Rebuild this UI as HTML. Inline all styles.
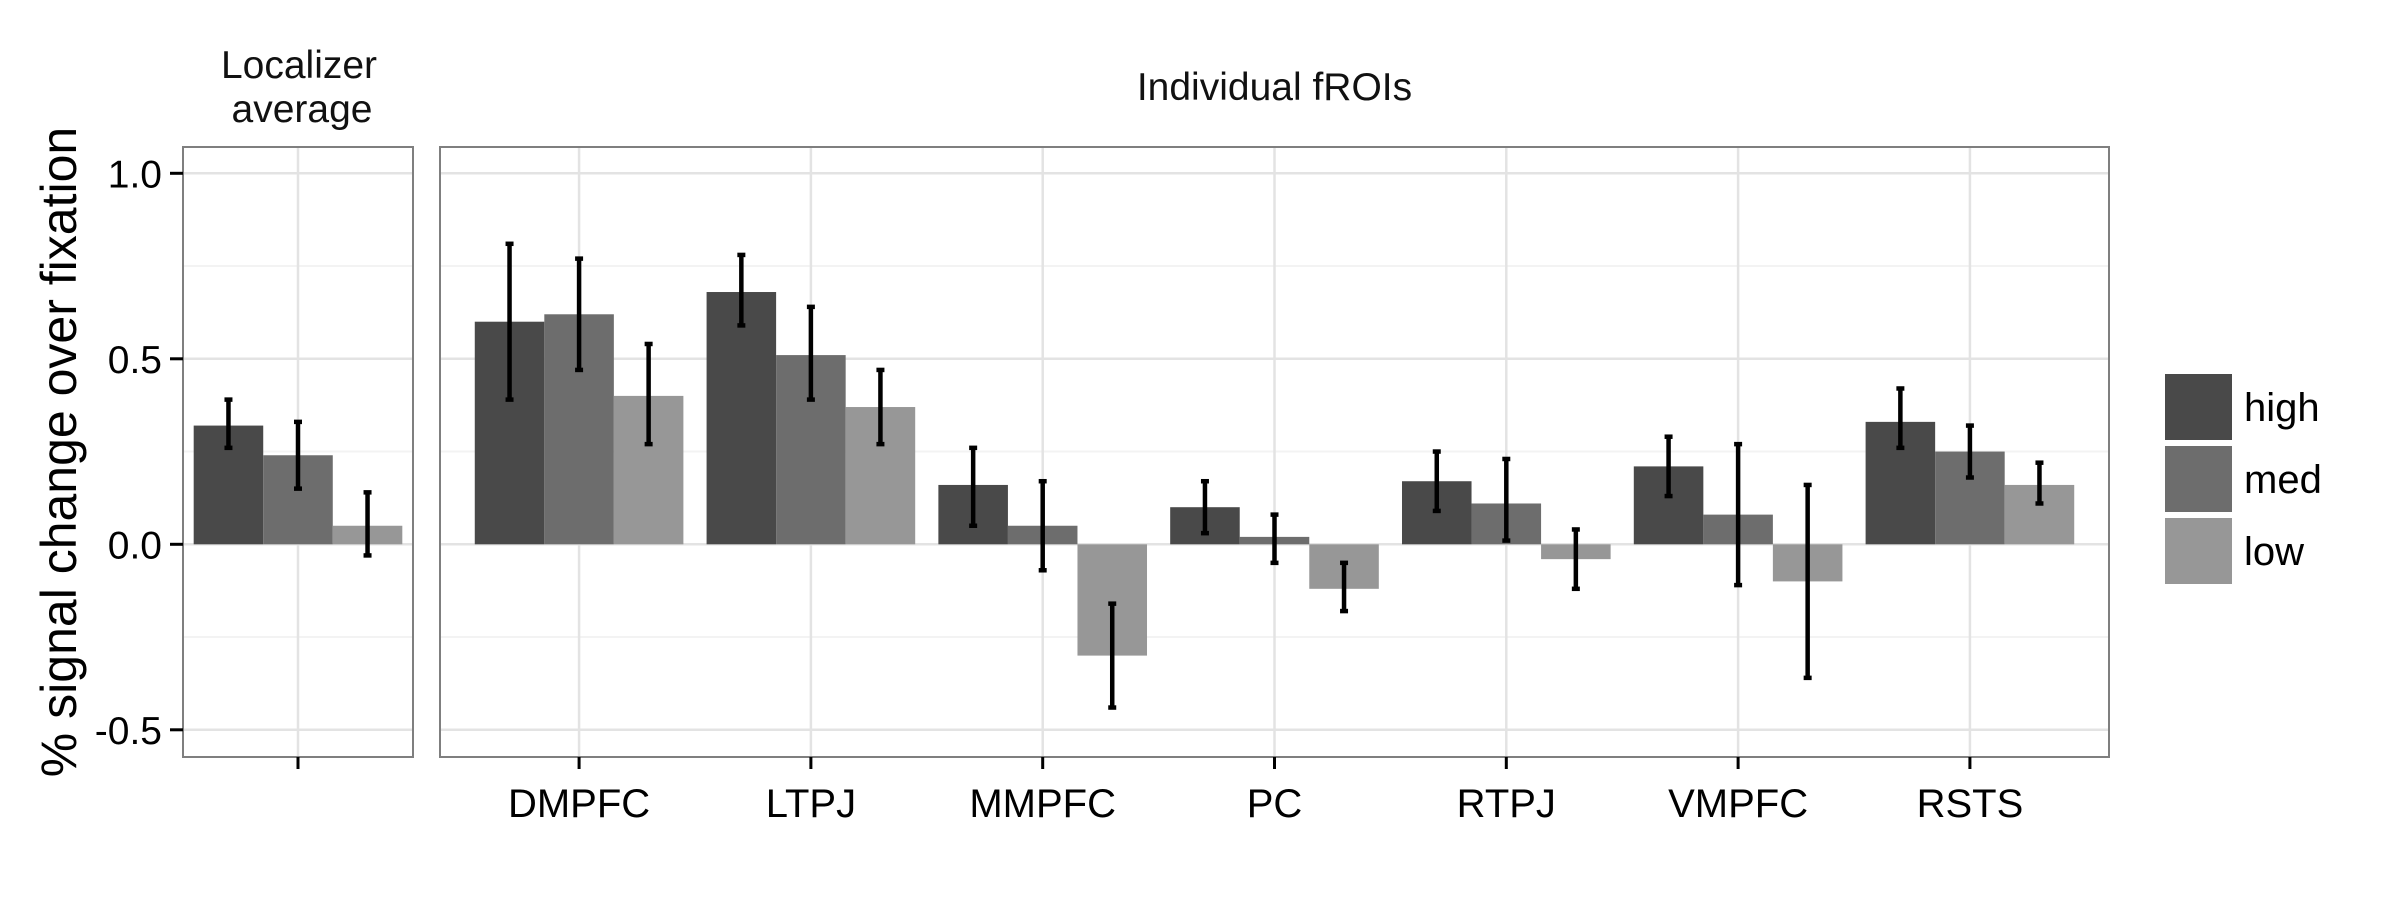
<!DOCTYPE html>
<html><head><meta charset="utf-8"><style>
html,body{margin:0;padding:0;background:#fff;}
svg{display:block;font-family:"Liberation Sans",sans-serif;}
</style></head><body>
<svg id="chart" width="2400" height="900" viewBox="0 0 2400 900" xmlns="http://www.w3.org/2000/svg"></svg>
<script>
const categories = ["DMPFC","LTPJ","MMPFC","PC","RTPJ","VMPFC","RSTS"];
const seriesNames = ["high","med","low"];
const locValues = [0.32, 0.24, 0.05];
const locLow = [0.26, 0.15, -0.03];
const locHigh = [0.39, 0.33, 0.14];
const highValues = [0.60, 0.68, 0.16, 0.10, 0.17, 0.21, 0.33];
const highLow = [0.39, 0.59, 0.05, 0.03, 0.09, 0.13, 0.26];
const highHigh = [0.81, 0.78, 0.26, 0.17, 0.25, 0.29, 0.42];
const medValues = [0.62, 0.51, 0.05, 0.02, 0.11, 0.08, 0.25];
const medLow = [0.47, 0.39, -0.07, -0.05, 0.01, -0.11, 0.18];
const medHigh = [0.77, 0.64, 0.17, 0.08, 0.23, 0.27, 0.32];
const lowValues = [0.40, 0.37, -0.30, -0.12, -0.04, -0.10, 0.16];
const lowLow = [0.27, 0.27, -0.44, -0.18, -0.12, -0.36, 0.11];
const lowHigh = [0.54, 0.47, -0.16, -0.05, 0.04, 0.16, 0.22];
const yTicks = [1.0, 0.5, 0.0, -0.5];
const yTickLabels = ["1.0","0.5","0.0","-0.5"];
const yMinor = [0.75, 0.25, -0.25];

const NS = "http://www.w3.org/2000/svg";
const svg = document.getElementById("chart");
const colors = ["#494949","#6d6d6d","#979797"];
const panelTop = 147, panelBottom = 757;
const zeroY = 544.3, unit = 371;
function y(v){ return zeroY - v*unit; }
const lp = {x0:183, x1:413};
const rp = {x0:440, x1:2109};
const band = (rp.x1-rp.x0)/7.2;
function xCat(i){ return rp.x0 + (0.6+i)*band; }
const locCenter = (lp.x0+lp.x1)/2;
const barW = band*0.3;

function el(tag, attrs, parent){
  const e = document.createElementNS(NS, tag);
  for (const k in attrs) e.setAttribute(k, attrs[k]);
  (parent||svg).appendChild(e);
  return e;
}
function txt(s, attrs, parent){ const t = el("text", attrs, parent); t.textContent = s; return t; }

function panelGrid(p, centers, name){
  const g = el("g", {});
  
  
  yMinor.forEach(v=>{ el("line",{x1:p.x0,x2:p.x1,y1:y(v),y2:y(v),stroke:"#f3f3f3","stroke-width":2},g); });
  yTicks.forEach(v=>{ el("line",{x1:p.x0,x2:p.x1,y1:y(v),y2:y(v),stroke:"#e3e3e3","stroke-width":2.5},g); });
  centers.forEach(c=>{ el("line",{x1:c,x2:c,y1:panelTop,y2:panelBottom,stroke:"#e3e3e3","stroke-width":2.5},g); });
}
panelGrid(lp, [locCenter], 'localizer-panel');
panelGrid(rp, categories.map((c,i)=>xCat(i)), 'froi-panel');

function bar(cx, k, v, lo, hi, name){
  const x = cx + (k-1)*barW - barW/2;
  const r = el("rect",{x:x, y:Math.min(y(v),y(0)), width:barW, height:Math.abs(y(v)-y(0)), fill:colors[k]});
  
  
  const xc = x + barW/2;
  const eb = el("g",{stroke:"#000","stroke-width":4.5});
  
  
  el("line",{x1:xc,x2:xc,y1:y(hi),y2:y(lo)},eb);
  el("line",{x1:xc-4,x2:xc+4,y1:y(hi),y2:y(hi)},eb);
  el("line",{x1:xc-4,x2:xc+4,y1:y(lo),y2:y(lo)},eb);
}
for (let k=0;k<3;k++) bar(locCenter, k, locValues[k], locLow[k], locHigh[k], 'bar-localizer-'+seriesNames[k]);
const vals=[highValues,medValues,lowValues], los=[highLow,medLow,lowLow], his=[highHigh,medHigh,lowHigh];
categories.forEach((c,i)=>{
  for (let k=0;k<3;k++) bar(xCat(i), k, vals[k][i], los[k][i], his[k][i], 'bar-'+c.toLowerCase()+'-'+seriesNames[k]);
});

[[lp,'localizer-panel-border'],[rp,'froi-panel-border']].forEach(([p,n])=>{
  const r = el("rect",{x:p.x0,y:panelTop,width:p.x1-p.x0,height:panelBottom-panelTop,fill:"none",stroke:"#7f7f7f","stroke-width":2});
  
  
});

yTicks.forEach((v,i)=>{
  el("line",{x1:170,x2:183,y1:y(v),y2:y(v),stroke:"#000","stroke-width":3});
  const t = txt(yTickLabels[i],{x:162,y:y(v)+14,"text-anchor":"end","font-size":39,fill:"#000"});
  
  
});
const yt = txt("% signal change over fixation",{x:0,y:0,"text-anchor":"middle","font-size":50,fill:"#000",transform:"translate(76,452) rotate(-90)"});



el("line",{x1:locCenter,x2:locCenter,y1:panelBottom,y2:panelBottom+12,stroke:"#000","stroke-width":3});
categories.forEach((c,i)=>{
  el("line",{x1:xCat(i),x2:xCat(i),y1:panelBottom,y2:panelBottom+12,stroke:"#000","stroke-width":3});
  const t = txt(c,{x:xCat(i),y:817,"text-anchor":"middle","font-size":40,fill:"#000"});
  
  
});

const s1 = txt("Localizer",{x:299,y:78,"text-anchor":"middle","font-size":39,fill:"#111"});


const s2 = txt("average",{x:302,y:122,"text-anchor":"middle","font-size":39,fill:"#111"});


const s3 = txt("Individual fROIs",{x:(rp.x0+rp.x1)/2,y:100,"text-anchor":"middle","font-size":39,fill:"#111"});



seriesNames.forEach((n,k)=>{
  const g = el("g",{});
  
  
  const ky = 374 + k*72;
  el("rect",{x:2165,y:ky,width:67,height:66,fill:colors[k]},g);
  txt(n,{x:2244,y:ky+47,"font-size":40,fill:"#000"},g);
});
</script>
</body></html>
